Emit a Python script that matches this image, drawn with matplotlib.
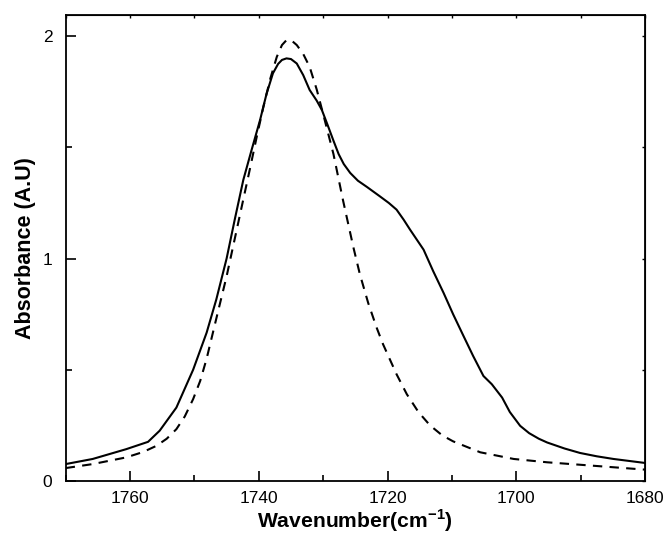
import matplotlib
matplotlib.use("Agg")
import matplotlib.pyplot as plt
from matplotlib.ticker import MultipleLocator

plt.rcParams['font.family'] = ['Liberation Sans', 'DejaVu Sans']
plt.rcParams['mathtext.fontset'] = 'custom'
plt.rcParams['mathtext.rm'] = 'Liberation Sans'
plt.rcParams['mathtext.bf'] = 'Liberation Sans:bold'

# Measured spectrum (solid)
measured_wn = [1770, 1765.8, 1760.6, 1757.2, 1755.4, 1752.8, 1750.2, 1748.1, 1746.6,
               1745.0, 1743.7, 1742.4, 1741.1, 1739.8, 1738.8, 1737.8, 1737.0, 1736.4,
               1735.7, 1735.0, 1734.1, 1733.1, 1732.1, 1731.0, 1730.2, 1729.3, 1728.4,
               1727.6, 1726.8, 1725.8, 1724.6, 1723.2, 1721.2, 1719.8, 1718.6, 1717.5,
               1716.5, 1714.4, 1712.9, 1711.3, 1709.8, 1708.2, 1706.7, 1705.1, 1703.8,
               1702.2, 1701.0, 1699.4, 1698.0, 1696.5, 1695.2, 1692.5, 1690.1, 1687.5,
               1684.9, 1680]
measured_abs = [0.076, 0.099, 0.143, 0.176, 0.226, 0.33, 0.50, 0.667, 0.816,
                1.00, 1.18, 1.354, 1.49, 1.623, 1.74, 1.833, 1.875, 1.893,
                1.90, 1.897, 1.877, 1.825, 1.758, 1.71, 1.668, 1.60, 1.53,
                1.47, 1.425, 1.385, 1.35, 1.322, 1.28, 1.25, 1.22, 1.175,
                1.13, 1.04, 0.943, 0.846, 0.749, 0.652, 0.562, 0.472, 0.435,
                0.375, 0.31, 0.248, 0.215, 0.19, 0.173, 0.146, 0.126, 0.111,
                0.099, 0.081]

# Fitted band (dashed)
fit_wn = [1770, 1765.8, 1760.6, 1758.0, 1755.9, 1754.3, 1752.8, 1751.5, 1750.2,
          1749.1, 1748.1, 1746.6, 1745.0, 1743.5, 1741.4, 1740.3, 1739.3, 1738.2,
          1737.2, 1736.4, 1735.7, 1734.9, 1734.1, 1733.1, 1732.1, 1731.0, 1730.0,
          1729.2, 1728.4, 1726.9, 1725.3, 1724.3, 1723.0, 1721.7, 1720.7, 1718.6,
          1717.0, 1715.2, 1713.4, 1711.5, 1709.8, 1705.6, 1700.4, 1695.2, 1690.1,
          1680]
fit_abs = [0.058, 0.076, 0.106, 0.13, 0.158, 0.19, 0.233, 0.29, 0.368,
           0.45, 0.55, 0.73, 0.92, 1.12, 1.40, 1.55, 1.68, 1.81,
           1.907, 1.96, 1.982, 1.98, 1.96, 1.92, 1.862, 1.76, 1.65,
           1.56, 1.47, 1.26, 1.05, 0.93, 0.80, 0.69, 0.615, 0.48,
           0.39, 0.31, 0.25, 0.205, 0.178, 0.129, 0.099, 0.084, 0.073,
           0.051]

fig = plt.figure(figsize=(6.68, 5.48), dpi=100)
ax = fig.add_axes([0.0983, 0.1223, 0.8673, 0.8503])

ax.plot(measured_wn, measured_abs, color='black', lw=1.5,
        solid_joinstyle='round', solid_capstyle='round')
ax.plot(fit_wn, fit_abs, color='black', lw=1.5, linestyle=(0, (4.5, 3.5)))

ax.set_xlim(1770, 1680)
ax.set_ylim(0, 2.095)
ax.xaxis.set_major_locator(MultipleLocator(20))
ax.xaxis.set_minor_locator(MultipleLocator(10))
ax.yaxis.set_major_locator(MultipleLocator(1))
ax.yaxis.set_minor_locator(MultipleLocator(0.5))

ax.tick_params(which='both', direction='in', top=False, right=False,
               labelsize=12.5, width=1.2)
ax.tick_params(axis='y', which='major', length=7, pad=9.5)
ax.tick_params(axis='x', which='major', length=7, pad=7)
ax.tick_params(which='minor', length=4)
for s in ax.spines.values():
    s.set_linewidth(1.3)

# short mirrored ticks on the top and right edges
top = ax.secondary_xaxis('top')
top.xaxis.set_major_locator(MultipleLocator(10))
top.tick_params(direction='in', length=2, width=1, labeltop=False)
right = ax.secondary_yaxis('right')
right.yaxis.set_major_locator(MultipleLocator(0.5))
right.tick_params(direction='in', length=2, width=1, labelright=False)

ax.set_xlabel('Wavenumber(cm$^{\\mathbf{-1}}$)', fontsize=15.2, fontweight='bold', labelpad=1)
ax.set_ylabel('Absorbance (A.U)', fontsize=15.5, fontweight='bold', labelpad=5)

fig.savefig('out.png', dpi=100)
